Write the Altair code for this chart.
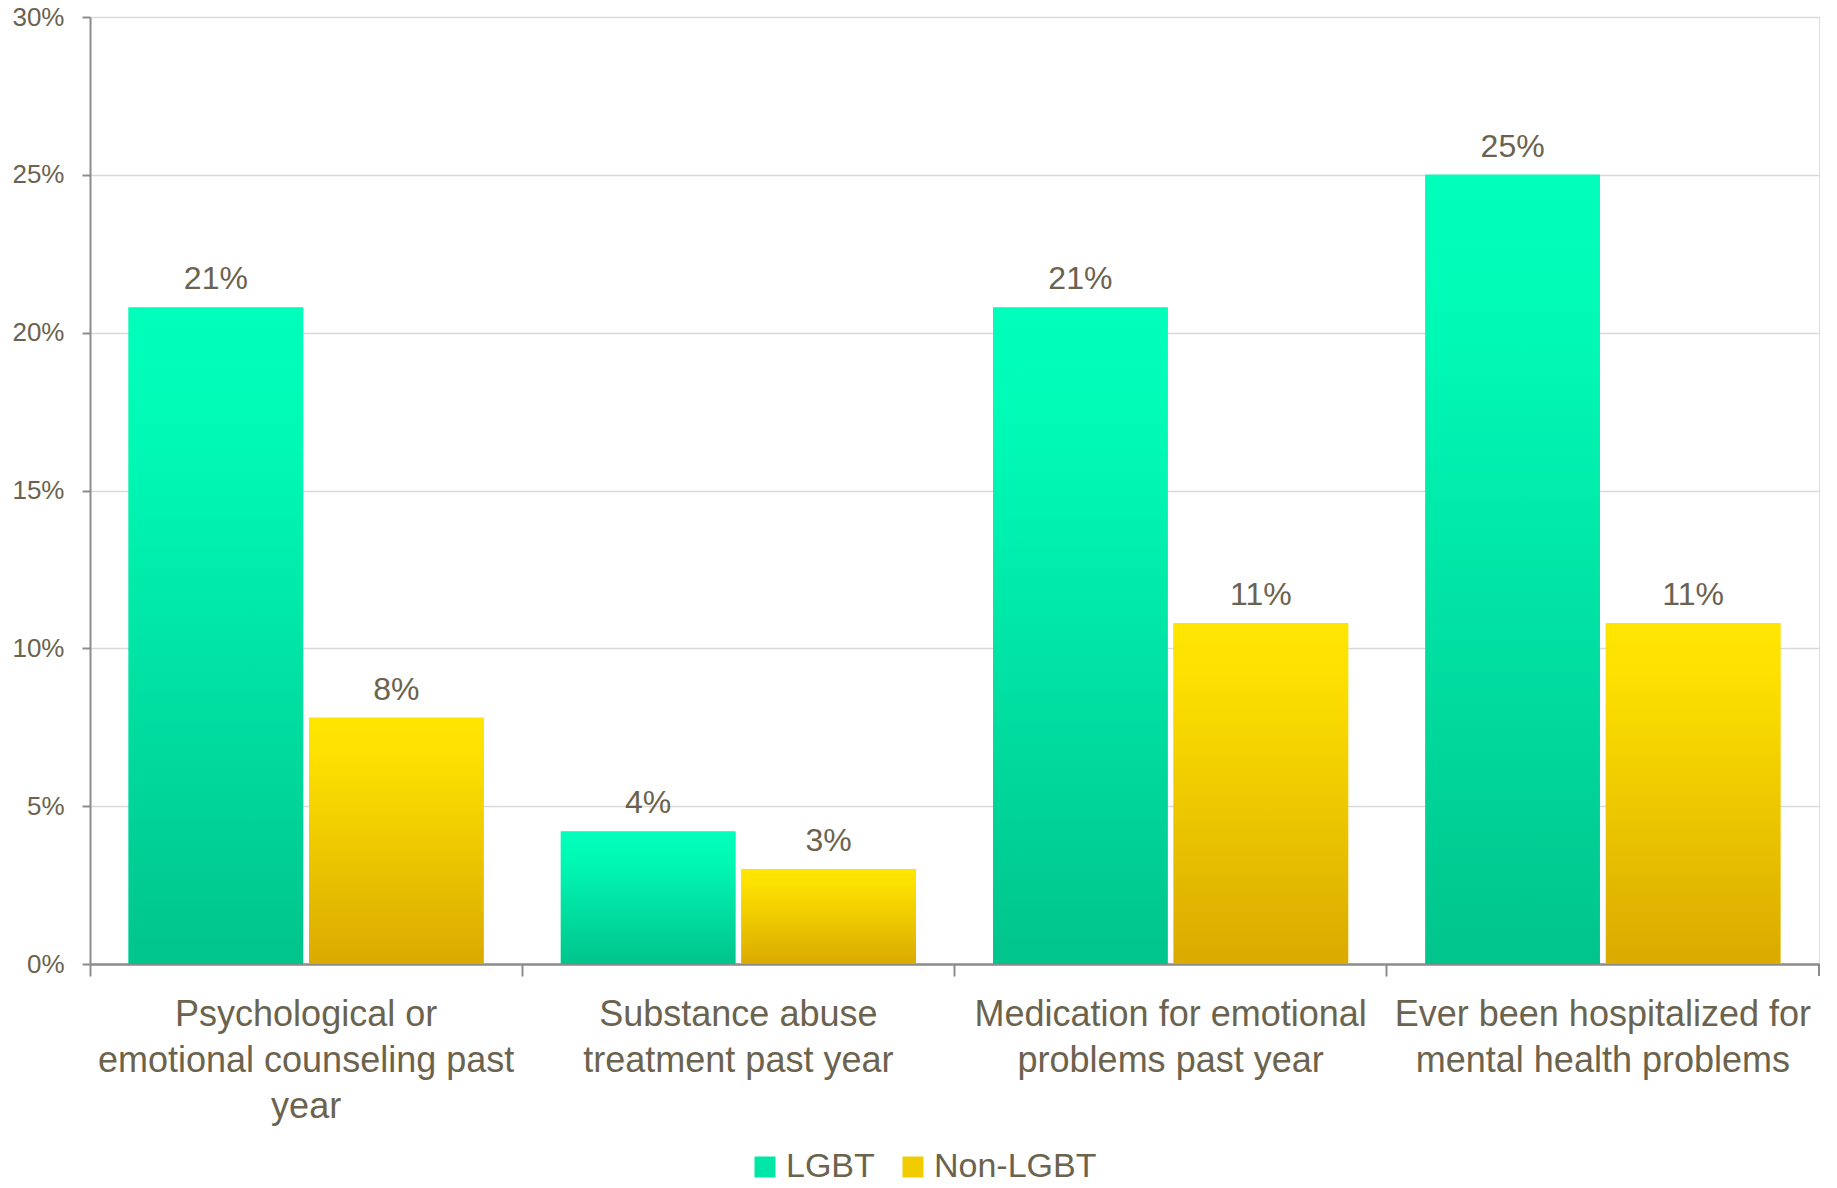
import altair as alt
import pandas as pd

categories = [
    "Psychological or emotional counseling past year",
    "Substance abuse treatment past year",
    "Medication for emotional problems past year",
    "Ever been hospitalized for mental health problems",
]
label_lines = [
    ["Psychological or", "emotional counseling past", "year"],
    ["Substance abuse", "treatment past year"],
    ["Medication for emotional", "problems past year"],
    ["Ever been hospitalized for", "mental health problems"],
]
series = ["LGBT", "Non-LGBT"]
lgbt_values = [20.8, 4.2, 20.8, 25.0]
non_lgbt_values = [7.8, 3.0, 10.8, 10.8]
y_ticks = [0, 5, 10, 15, 20, 25, 30]

rows = []
for c, a, b in zip(categories, lgbt_values, non_lgbt_values):
    rows.append({"category": c, "group": "LGBT", "value": a})
    rows.append({"category": c, "group": "Non-LGBT", "value": b})
df = pd.DataFrame(rows)

TEXT = "#6B634E"
FONT = "Liberation Sans"
W, H = 1729, 947

label_map = "{" + ", ".join(
    "'" + c + "': [" + ", ".join("'" + l + "'" for l in lines) + "]"
    for c, lines in zip(categories, label_lines)
) + "}"

x_enc = alt.X(
    "category:N",
    sort=categories,
    scale=alt.Scale(paddingInner=0, paddingOuter=0),
    axis=alt.Axis(
        title=None,
        labelAngle=0,
        bandPosition=0,
        labelExpr=label_map + "[datum.value]",
        labelFontSize=36,
        labelLineHeight=46,
        labelColor=TEXT,
        labelFont=FONT,
        labelPadding=21,
        labelLimit=0,
        tickSize=12,
        tickColor="#8C8C8C",
        tickWidth=2,
        domainColor="#8C8C8C",
        domainWidth=2.5,
        labelBound=False,
        labelOverlap=False,
    ),
)
xo_enc = alt.XOffset(
    "group:N",
    sort=series,
    scale=alt.Scale(paddingInner=0.0327, paddingOuter=0.2137),
)
y_enc = alt.Y(
    "value:Q",
    scale=alt.Scale(domain=[0, 30], nice=False),
    axis=alt.Axis(
        title=None,
        values=y_ticks,
        labelExpr="datum.value + '%'",
        labelFontSize=26,
        labelColor=TEXT,
        labelFont=FONT,
        labelPadding=18,
        tickSize=8,
        tickColor="#8C8C8C",
        tickWidth=2,
        domainColor="#8C8C8C",
        domainWidth=2,
        grid=True,
        gridColor="#D9D9D9",
        gridWidth=1.5,
    ),
)

base = alt.Chart(df)

legend_layer = base.mark_bar().encode(
    x=x_enc,
    xOffset=xo_enc,
    y=y_enc,
    color=alt.Color(
        "group:N",
        sort=series,
        scale=alt.Scale(domain=series, range=["#00E6A6", "#F0CC00"]),
        legend=alt.Legend(
            title=None,
            orient="none",
            direction="horizontal",
            legendX=658,
            legendY=1133,
            symbolType="square",
            symbolSize=441,
            symbolStrokeWidth=0,
            labelFontSize=34,
            labelColor=TEXT,
            labelFont=FONT,
            labelOffset=4,
            labelLimit=0,
            columnPadding=21,
        ),
    ),
)

green_grad = alt.Gradient(
    gradient="linear", x1=0, y1=0, x2=0, y2=1,
    stops=[
        alt.GradientStop(offset=0, color="#00FFBB"),
        alt.GradientStop(offset=0.2, color="#00FAB6"),
        alt.GradientStop(offset=1, color="#00C48C"),
    ],
)
yellow_grad = alt.Gradient(
    gradient="linear", x1=0, y1=0, x2=0, y2=1,
    stops=[
        alt.GradientStop(offset=0, color="#FFE600"),
        alt.GradientStop(offset=0.15, color="#FDE100"),
        alt.GradientStop(offset=1, color="#DAAA00"),
    ],
)

green_bars = base.transform_filter(alt.datum.group == "LGBT").mark_bar(color=green_grad).encode(
    x=x_enc, xOffset=xo_enc, y=y_enc
)
yellow_bars = base.transform_filter(alt.datum.group == "Non-LGBT").mark_bar(color=yellow_grad).encode(
    x=x_enc, xOffset=xo_enc, y=y_enc
)

labels = base.transform_calculate(
    lbl="format(datum.value, '.0f') + '%'"
).mark_text(
    baseline="alphabetic", dy=-18, fontSize=32, color=TEXT, font=FONT
).encode(x=x_enc, xOffset=xo_enc, y=y_enc, text="lbl:N")

end_tick = alt.Chart(pd.DataFrame({"k": [0]})).mark_rule(color="#8C8C8C", strokeWidth=2).encode(
    x=alt.value(W), y=alt.value(H), y2=alt.value(H + 12)
)

chart = alt.layer(legend_layer, green_bars, yellow_bars, labels, end_tick).properties(
    width=W,
    height=H,
    autosize=alt.AutoSizeParams(type="none"),
    padding={"left": 90, "top": 17, "right": 18, "bottom": 224},
).configure_view(stroke=None).configure(background="white")

chart.save("out.html", embed_options={"renderer": "svg", "actions": False})
